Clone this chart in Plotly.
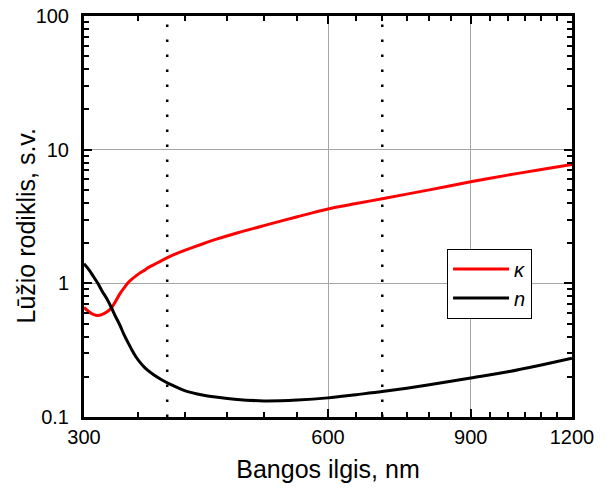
import plotly.graph_objects as go
import numpy as np

# wavelength grid (nm)
wavelength = [300, 304, 308, 312, 316, 320, 324, 328, 332, 336, 340, 344, 348, 352, 356, 360,
              366, 374, 383, 392, 400, 420, 436, 460, 500, 550, 600, 650, 700, 800, 900,
              1000, 1100, 1200]
# extinction coefficient kappa
kappa = [0.66, 0.615, 0.585, 0.574, 0.585, 0.61, 0.65, 0.73, 0.83, 0.92, 1.01, 1.08, 1.14, 1.20,
         1.25, 1.31, 1.38, 1.48, 1.59, 1.69, 1.77, 1.97, 2.13, 2.35, 2.70, 3.15, 3.60, 3.95,
         4.30, 5.00, 5.75, 6.45, 7.10, 7.75]
# refractive index n
n_index = [1.40, 1.27, 1.13, 1.00, 0.87, 0.77, 0.665, 0.567, 0.49, 0.415, 0.36, 0.315, 0.28,
           0.255, 0.236, 0.222, 0.206, 0.19, 0.176, 0.165, 0.157, 0.146, 0.141, 0.136, 0.132,
           0.134, 0.139, 0.147, 0.155, 0.174, 0.196, 0.218, 0.245, 0.275]

# visible range markers (nm)
marker_wl = [380, 700]
y_span = [0.1, 100]

x_major = [300, 600, 900, 1200]
x_minor = list(range(350, 1200, 50))
y_major = [0.1, 1, 10, 100]
y_major_text = ["0.1", "1", "10", "100"]
y_minor = [m * 10.0 ** e for e in (-1, 0, 1) for m in range(2, 10)]

FONT = "Liberation Sans, Arial"

fig = go.Figure()

for xv in marker_wl:
    fig.add_trace(go.Scatter(x=[xv, xv], y=y_span, mode="lines",
                             line=dict(color="black", width=2.5, dash="2.5px,12.5px"),
                             showlegend=False, hoverinfo="skip"))

fig.add_trace(go.Scatter(x=wavelength, y=kappa, mode="lines", name="<i>κ</i>",
                         line=dict(color="#ff0000", width=3, shape="spline", smoothing=0.8)))
fig.add_trace(go.Scatter(x=wavelength, y=n_index, mode="lines", name="<i>n</i>",
                         line=dict(color="black", width=3, shape="spline", smoothing=0.8)))

axis_common = dict(
    showline=True, linecolor="black", linewidth=3, mirror="allticks",
    ticks="inside", ticklen=8, tickwidth=2, tickcolor="black",
    showgrid=True, gridcolor="#a6a6a6", gridwidth=1, zeroline=False,
    tickfont=dict(family=FONT, size=20, color="black"),
    automargin=False,
)

fig.update_xaxes(
    type="log", range=[np.log10(300), np.log10(1200)],
    tickmode="array", tickvals=x_major, ticktext=[str(v) for v in x_major],
    minor=dict(tickmode="array", tickvals=x_minor, ticks="inside", ticklen=5,
               tickwidth=2, tickcolor="black", showgrid=False),
    title=dict(text="Bangos ilgis, nm", font=dict(family=FONT, size=25, color="black"),
               standoff=14),
    **axis_common,
)
fig.update_yaxes(
    type="log", range=[-1, 2],
    tickmode="array", tickvals=y_major, ticktext=y_major_text,
    ticklabelstandoff=8,
    minor=dict(tickmode="array", tickvals=y_minor, ticks="inside", ticklen=5,
               tickwidth=2, tickcolor="black", showgrid=False),
    **axis_common,
)

fig.add_annotation(text="Lūžio rodiklis, s.v.", textangle=-90,
                   xref="paper", yref="paper", x=0, y=0.5,
                   xanchor="center", yanchor="middle", xshift=-59, yshift=-10,
                   showarrow=False, font=dict(family=FONT, size=25, color="black"))

fig.update_layout(
    width=613, height=488,
    margin=dict(l=84, r=41, t=16, b=71),
    paper_bgcolor="white", plot_bgcolor="white",
    legend=dict(x=0.744, y=0.42, xanchor="left", yanchor="top",
                bgcolor="white", bordercolor="black", borderwidth=1,
                font=dict(family=FONT, size=20, color="black"),
                itemwidth=56, tracegroupgap=0),
    showlegend=True,
)

fig.write_html("out.html")
